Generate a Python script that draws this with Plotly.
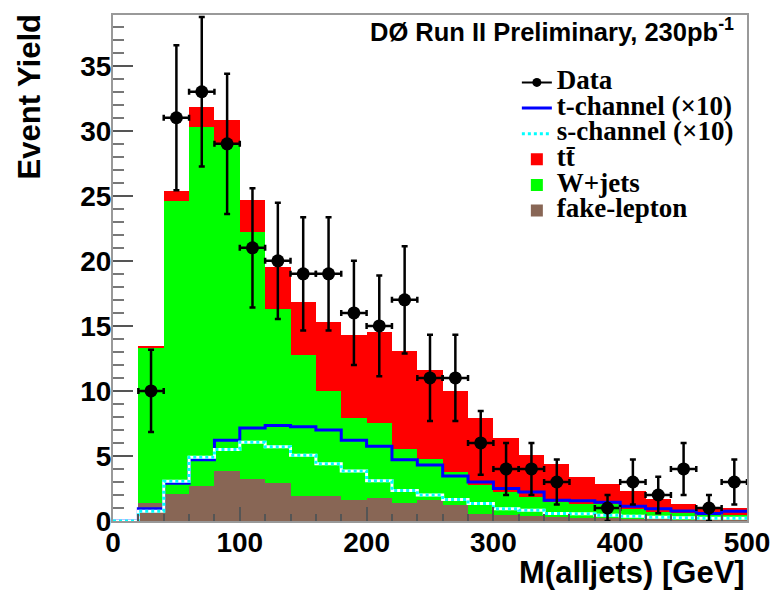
import plotly.graph_objects as go

# ---------------- data ----------------
bin_edges = [0, 20, 40, 60, 80, 100, 120, 140, 160, 180, 200, 220, 240, 260,
             280, 300, 320, 340, 360, 380, 400, 420, 440, 460, 480, 500]
bin_centers = [10, 30, 50, 70, 90, 110, 130, 150, 170, 190, 210, 230, 250, 270,
               290, 310, 330, 350, 370, 390, 410, 430, 450, 470, 490]

fake_lepton = [0, 1.4, 2.1, 2.67, 3.85, 3.2, 2.9, 1.9, 1.9, 1.65, 1.8, 1.4, 1.6,
               1.2, 0.57, 0.44, 0.35, 0.3, 0.25, 0.2, 0.15, 0.12, 0.1, 0.08, 0.08]
w_jets = [0, 11.9, 22.5, 27.63, 25.15, 19.0, 13.4, 10.85, 8.1, 6.25, 5.7, 4.1, 3.2,
          2.57, 2.18, 1.79, 1.5, 1.16, 1.05, 1.13, 0.8, 0.58, 0.5, 0.37, 0.42]
ttbar = [0, 0.15, 0.8, 1.5, 1.8, 2.5, 3.2, 4.05, 5.3, 6.4, 7.0, 7.6, 6.8,
         6.23, 5.15, 4.17, 3.2, 2.94, 2.1, 1.54, 1.33, 0.97, 0.68, 0.5, 0.53]
t_channel_x10 = [0, 0.95, 2.9, 4.7, 6.2, 7.15, 7.35, 7.25, 7.0, 6.2, 5.75, 4.7, 4.3,
                 3.45, 3.0, 2.5, 2.23, 1.6, 1.55, 1.45, 1.13, 0.95, 0.77, 0.57, 0.75]
s_channel_x10 = [0, 0.75, 3.05, 4.9, 5.5, 6.05, 5.7, 5.05, 4.4, 3.85, 3.1, 2.35, 2.0,
                 1.65, 1.34, 0.95, 0.82, 0.57, 0.55, 0.44, 0.36, 0.28, 0.25, 0.22, 0.22]
data_counts = [0, 10, 31, 33, 29, 21, 20, 19, 19, 16, 15, 17, 11,
               11, 6, 4, 4, 3, 0, 1, 3, 2, 4, 1, 3]
data_errors = [0, 3.16, 5.57, 5.74, 5.39, 4.58, 4.47, 4.36, 4.36, 4.0, 3.87, 4.12, 3.32,
               3.32, 2.45, 2.0, 2.0, 1.73, 0, 1.0, 1.73, 1.41, 2.0, 1.0, 1.73]
bin_half_width = 10

x_ticks = [0, 100, 200, 300, 400, 500]
y_ticks = [0, 5, 10, 15, 20, 25, 30, 35]

# ---------------- styling ----------------
SANS = "Liberation Sans, Arial, sans-serif"
SERIF = "Liberation Serif, Times New Roman, serif"
LEG = 'font-size:27px'

def step_y(v):
    return v + [v[-1]]

fig = go.Figure()

# stacked histogram components (bottom -> top)
fig.add_trace(go.Bar(x=bin_centers, y=fake_lepton, width=20, name=f'<span style="{LEG}">fake-lepton</span>',
                     marker=dict(color="#886655", line=dict(width=0)), legendrank=6))
fig.add_trace(go.Bar(x=bin_centers, y=w_jets, width=20, name=f'<span style="{LEG}">W+jets</span>',
                     marker=dict(color="#00ff00", line=dict(width=0)), legendrank=5))
fig.add_trace(go.Bar(x=bin_centers, y=ttbar, width=20, name=f'<span style="{LEG}">tt\u0304</span>',
                     marker=dict(color="#ff0000", line=dict(width=0)), legendrank=4))

# signal step lines
fig.add_trace(go.Scatter(x=bin_edges, y=step_y(t_channel_x10), mode="lines", line_shape="hv",
                         line=dict(color="#0000ff", width=3),
                         name=f'<span style="{LEG}">t-channel (×10)</span>', legendrank=2))
fig.add_trace(go.Scatter(x=bin_edges, y=step_y(s_channel_x10), mode="lines", line_shape="hv",
                         line=dict(color="#ffffff", width=3), showlegend=False, hoverinfo="skip"))
fig.add_trace(go.Scatter(x=bin_edges, y=step_y(s_channel_x10), mode="lines", line_shape="hv",
                         line=dict(color="#00ffff", width=3, dash="dot"),
                         name=f'<span style="{LEG}">s-channel (×10)</span>', legendrank=3))

# data points
dx = [c for c, n in zip(bin_centers, data_counts) if n > 0]
dy = [n for n in data_counts if n > 0]
de = [e for e, n in zip(data_errors, data_counts) if n > 0]
fig.add_trace(go.Scatter(x=dx, y=dy, mode="markers", showlegend=False,
                         marker=dict(color="black", size=13),
                         error_y=dict(type="data", array=de, color="black", thickness=2.5, width=3),
                         error_x=dict(type="constant", value=bin_half_width, color="black", thickness=2.5, width=3)))
# legend entry for data
fig.add_trace(go.Scatter(x=[None], y=[None], mode="lines+markers",
                         line=dict(color="black", width=2), marker=dict(color="black", size=9),
                         name=f'<span style="{LEG}">Data</span>', legendrank=1))

axis_common = dict(showline=True, linecolor="#999999", linewidth=2, mirror=True,
                   ticks="inside", tickcolor="#555555", tickwidth=1.5,
                   tickfont=dict(family=SANS, size=28, color="black", weight="bold"),
                   showgrid=False, zeroline=False, automargin=False)

fig.update_layout(
    width=773, height=591, autosize=False,
    margin=dict(l=113, r=26, t=15, b=70),
    paper_bgcolor="white", plot_bgcolor="white",
    barmode="stack", bargap=0,
    showlegend=True,
    legend=dict(x=0.637, y=0.902, xanchor="left", yanchor="top",
                bgcolor="rgba(0,0,0,0)", borderwidth=0,
                font=dict(family=SERIF, size=17.4, color="black", weight="bold"),
                traceorder="normal", itemwidth=30),
    xaxis=dict(range=[0, 500], tickvals=x_ticks, ticklen=14, ticklabelstandoff=-5,
               minor=dict(dtick=20, ticklen=7, ticks="inside", tickcolor="#555555"),
               **axis_common),
    yaxis=dict(range=[0, 38.9], tickvals=y_ticks, ticklen=20, ticklabelstandoff=-6,
               minor=dict(dtick=1, ticklen=11, ticks="inside", tickcolor="#777777"),
               **axis_common),
    annotations=[
        dict(text="Event Yield", textangle=-90, xref="paper", yref="paper",
             x=-0.131, y=1.006, xanchor="center", yanchor="top", showarrow=False,
             font=dict(family=SANS, size=31, color="black", weight="bold")),
        dict(text="M(alljets) [GeV]", xref="paper", yref="paper",
             x=1.0, y=-0.101, xanchor="right", yanchor="middle", showarrow=False,
             font=dict(family=SANS, size=31, color="black", weight="bold")),
        dict(text="DØ Run II Preliminary, 230pb<sup>-1</sup>", xref="paper", yref="paper",
             x=0.982, y=0.97, xanchor="right", yanchor="middle", showarrow=False,
             font=dict(family=SANS, size=25.5, color="black", weight="bold")),
    ],
)

fig.write_html("out.html", config={"displayModeBar": False, "responsive": False},
               post_script="document.documentElement.style.margin='0px';document.body.style.margin='0px';document.body.style.overflow='hidden';")
